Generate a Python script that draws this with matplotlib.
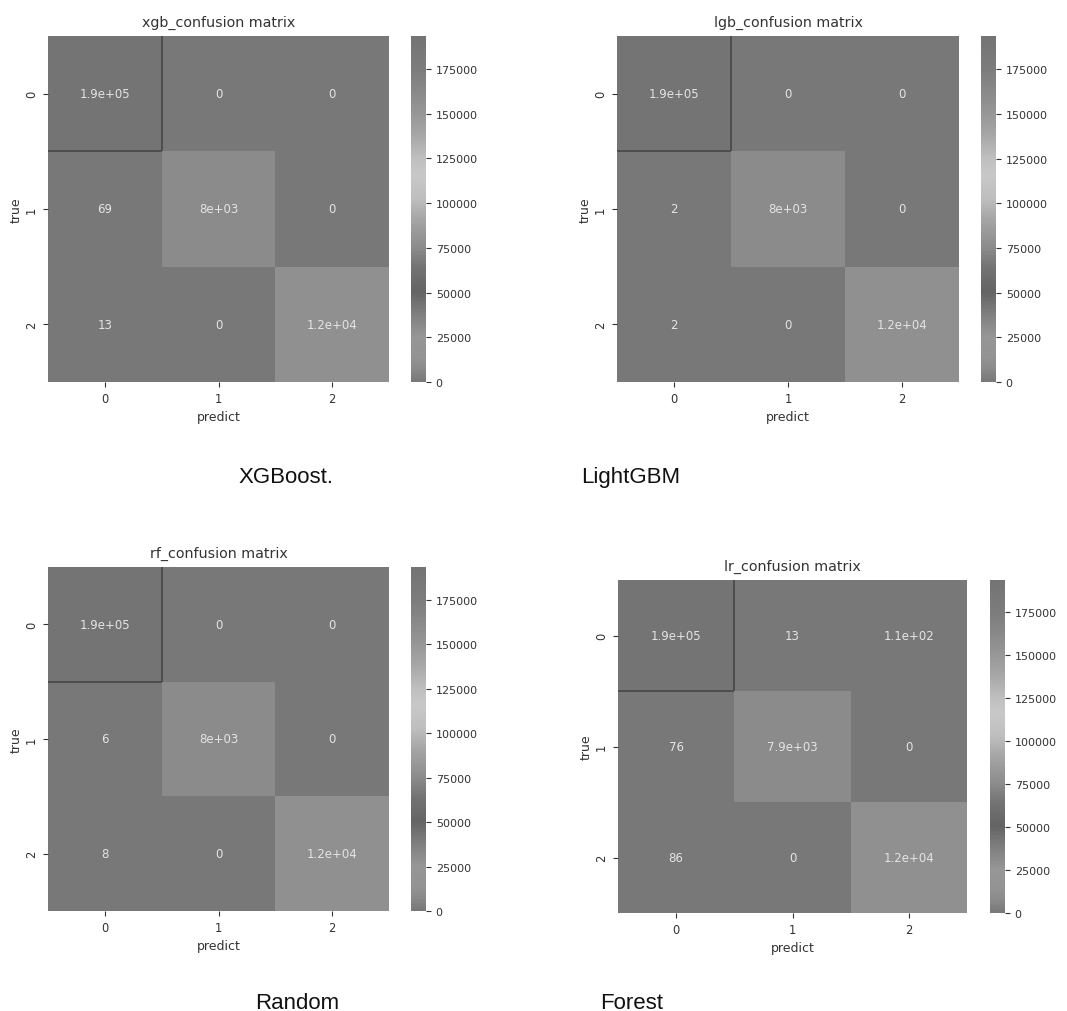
import numpy as np
import matplotlib
matplotlib.use("Agg")
import matplotlib.pyplot as plt
from matplotlib.colors import LinearSegmentedColormap
import seaborn as sns

# Confusion matrices (rows: true class, columns: predicted class)
classes = ["0", "1", "2"]
xgb_cm = [[193450, 0, 0], [69, 8010, 0], [13, 0, 12040]]
lgb_cm = [[193520, 0, 0], [2, 8040, 0], [2, 0, 12030]]
rf_cm = [[193510, 0, 0], [6, 8030, 0], [8, 0, 12040]]
lr_cm = [[193400, 13, 110], [76, 7920, 0], [86, 0, 11960]]

titles = ["xgb_confusion matrix", "lgb_confusion matrix",
          "rf_confusion matrix", "lr_confusion matrix"]
captions = ["XGBoost.", "LightGBM", "Random", "Forest"]

# Grey-scale colour map
stops = [(0.00, 120), (0.04, 139), (0.07, 147), (0.13, 150), (0.20, 125),
         (0.26, 100), (0.33, 115), (0.39, 140), (0.47, 165), (0.53, 190),
         (0.60, 200), (0.65, 190), (0.72, 165), (0.78, 150), (0.85, 135),
         (0.90, 125), (1.00, 116)]
cmap = LinearSegmentedColormap.from_list(
    "greys_print", [(p, (g / 255, g / 255, g / 255)) for p, g in stops])

W, H = 1067, 1012
fig = plt.figure(figsize=(W / 100, H / 100), dpi=100)

# panel boxes in pixels: heatmap (x0, x1, y0, y1), colorbar x0
boxes = [((48, 389, 37, 383), 411),
         ((617, 959, 37, 383), 981),
         ((48, 389, 568, 912), 411),
         ((618, 967, 581, 914), 990)]

text_col = "#333333"
for cm, title, ((x0, x1, y0, y1), cx) in zip(
        [xgb_cm, lgb_cm, rf_cm, lr_cm], titles, boxes):
    data = np.array(cm, dtype=float)
    ax = fig.add_axes([x0 / W, 1 - y1 / H, (x1 - x0) / W, (y1 - y0) / H])
    cax = fig.add_axes([cx / W, 1 - y1 / H, 15 / W, (y1 - y0) / H])
    sns.heatmap(data, annot=True, fmt=".2g", cmap=cmap, ax=ax, cbar_ax=cax,
                annot_kws={"color": "#e4e4e4", "fontsize": 8.5},
                xticklabels=classes, yticklabels=classes)
    # outline the right and bottom edges of the largest cell
    r, c = np.unravel_index(np.argmax(data), data.shape)
    ax.vlines(c + 1, r, r + 1, colors="#4d4d4d", lw=1.4)
    ax.hlines(r + 1, c, c + 1, colors="#4d4d4d", lw=1.4)
    ax.set_title(title, fontsize=10.3, color=text_col, pad=7)
    ax.set_xlabel("predict", fontsize=9, color=text_col, labelpad=4)
    ax.set_ylabel("true", fontsize=9, color=text_col, labelpad=2)
    ax.tick_params(axis="both", labelsize=8.3, colors=text_col, length=3.5,
                   width=0.8)
    plt.setp(ax.get_yticklabels(), rotation=90, va="center")
    plt.setp(ax.get_xticklabels(), rotation=0)
    cax.tick_params(labelsize=8, colors=text_col, length=3.5, width=0.8)

cap_pos = [(286, 483), (631, 483), (297, 1009), (632, 1009)]
for txt, (px, py) in zip(captions, cap_pos):
    fig.text(px / W, 1 - py / H, txt, ha="center", va="baseline",
             fontsize=16, family=["Liberation Sans", "DejaVu Sans"],
             color="#111111")

fig.savefig("out.png", dpi=100)
